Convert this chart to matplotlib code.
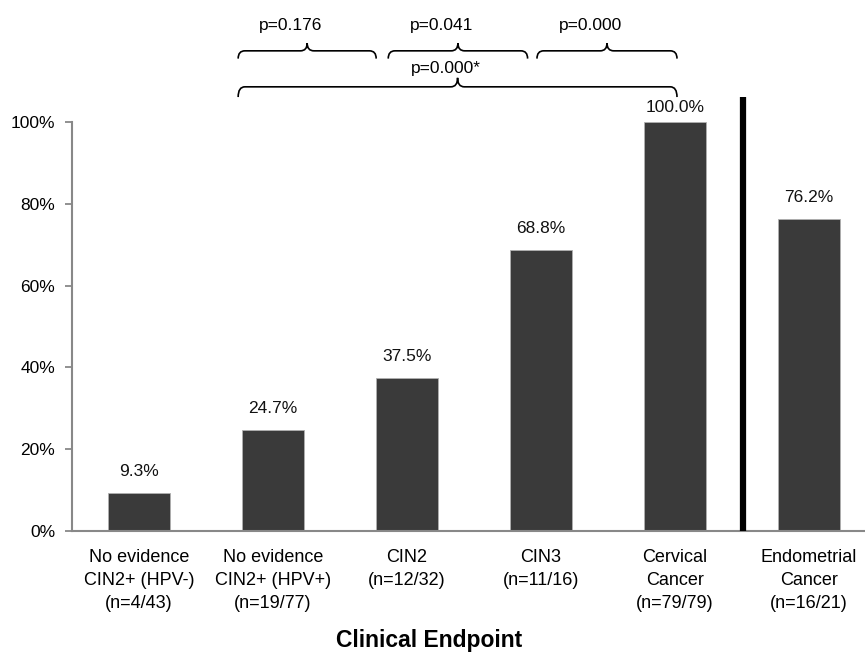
import matplotlib
matplotlib.use("Agg")
import matplotlib.pyplot as plt
from matplotlib.path import Path
from matplotlib.patches import PathPatch

plt.rcParams['font.family'] = ['Liberation Sans', 'DejaVu Sans']

categories = ["No evidence\nCIN2+ (HPV-)\n(n=4/43)",
              "No evidence\nCIN2+ (HPV+)\n(n=19/77)",
              "CIN2\n(n=12/32)",
              "CIN3\n(n=11/16)",
              "Cervical\nCancer\n(n=79/79)",
              "Endometrial\nCancer\n(n=16/21)"]
values = [9.3, 24.7, 37.5, 68.8, 100.0, 76.2]
value_labels = ["9.3%", "24.7%", "37.5%", "68.8%", "100.0%", "76.2%"]
yticks = [0, 20, 40, 60, 80, 100]
ytick_labels = ["0%", "20%", "40%", "60%", "80%", "100%"]

# brackets: (x_start, x_end, label)
top_brackets = [(0.74, 1.77, "p=0.176"), (1.86, 2.90, "p=0.041"), (2.97, 4.015, "p=0.000")]
bottom_bracket = (0.74, 4.015, "p=0.000*")

fig = plt.figure(figsize=(8.65, 6.56), dpi=100)
ax = fig.add_axes([72/865, 125/656, 1 - 72/865, 409/656])

x = list(range(len(values)))
ax.bar(x, values, width=0.463, color="#3a3a3a", edgecolor="#b0b0b0", linewidth=0.6, zorder=2)
for xi, v, lab in zip(x, values, value_labels):
    off = 5 if v >= 100 else 10
    ax.annotate(lab, (xi, v), xytext=(0, off), textcoords="offset points",
                ha="center", va="bottom", fontsize=12.5, color="#111111")

ax.set_xlim(-0.5, 5.418)
ax.set_ylim(0, 100)
ax.set_yticks(yticks)
ax.set_yticklabels(ytick_labels, fontsize=12.5)
ax.set_xticks(x)
ax.set_xticklabels(categories, fontsize=13, linespacing=1.45, va="top")
ax.tick_params(axis="x", length=0, pad=13)
ax.tick_params(axis="y", length=5, width=1.3, color="#888888", pad=7, direction="out")
for s in ["top", "right"]:
    ax.spines[s].set_visible(False)
for s in ["left", "bottom"]:
    ax.spines[s].set_color("#888888")
    ax.spines[s].set_linewidth(1.5)

# black separator line
ax.plot([4.51, 4.51], [0, 106], color="black", linewidth=4.5, clip_on=False, zorder=3, solid_capstyle="butt")

def bracket(x0, x1, y, down, up, dx=0.05):
    xm = (x0 + x1) / 2
    verts = [(x0, y - down), (x0, y), (x0 + dx, y),
             (xm - dx, y), (xm, y), (xm, y + up),
             (xm, y), (xm + dx, y),
             (x1 - dx, y), (x1, y), (x1, y - down)]
    codes = [Path.MOVETO, Path.CURVE3, Path.CURVE3,
             Path.LINETO, Path.CURVE3, Path.CURVE3,
             Path.CURVE3, Path.CURVE3,
             Path.LINETO, Path.CURVE3, Path.CURVE3]
    p = PathPatch(Path(verts, codes), facecolor="none", edgecolor="black",
                  linewidth=1.2, clip_on=False)
    ax.add_patch(p)
    return xm

for x0, x1, lab in top_brackets:
    xm = bracket(x0, x1, 117.4, 1.9, 1.9)
    ax.text(xm - 0.12, 123.6, lab, ha="center", va="center", fontsize=12.5)

x0, x1, lab = bottom_bracket
xm = bracket(x0, x1, 108.6, 2.5, 2.2)
ax.text(xm - 0.09, 113.2, lab, ha="center", va="center", fontsize=12.5)

fig.text(0.5 * (72/865) + 0.5 * 0.97 - 0.03, 0.024, "Clinical Endpoint", ha="center", va="center",
         fontsize=16.5, fontweight="bold")

fig.savefig("out.png", dpi=100)
